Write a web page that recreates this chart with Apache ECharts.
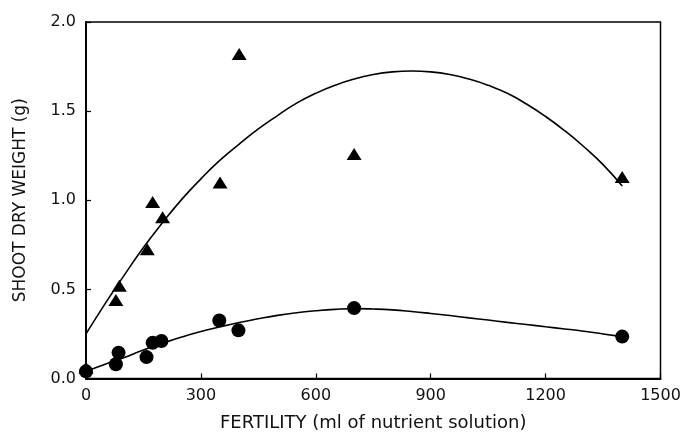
<!DOCTYPE html>
<html>
<head>
<meta charset="utf-8">
<script src="https://cdn.jsdelivr.net/npm/echarts@6/dist/echarts.min.js"></script>
<style>
html,body{margin:0;padding:0;background:#fff;}
#chart{width:686px;height:439px;}
</style>
</head>
<body>
<div id="chart"></div>
<script>
// Observed points: triangles (upper group) and circles (lower group)
var triangleX = [0, 78, 87, 160, 174, 200, 350, 400, 700, 1400];
var triangleY = [0.06, 0.44, 0.52, 0.725, 0.99, 0.905, 1.10, 1.82, 1.26, 1.13];
var circleX = [0, 78, 85, 158, 174, 197, 348, 398, 700, 1400];
var circleY = [0.04, 0.08, 0.145, 0.12, 0.20, 0.21, 0.325, 0.27, 0.395, 0.235];

// Fitted curves
var curveX = [0, 50, 100, 150, 200, 250, 300, 350, 400, 450, 500, 550, 600, 650, 700, 750, 800, 850, 900, 950, 1000, 1050, 1100, 1150, 1200, 1250, 1300, 1350, 1400];
var upperCurveY = [0.25, 0.42, 0.58, 0.735, 0.875, 1.005, 1.12, 1.225, 1.315, 1.40, 1.475, 1.545, 1.60, 1.645, 1.68, 1.705, 1.72, 1.725, 1.72, 1.705, 1.68, 1.645, 1.60, 1.54, 1.47, 1.39, 1.30, 1.20, 1.08];
var lowerCurveY = [0.04, 0.08, 0.118, 0.16, 0.198, 0.233, 0.264, 0.29, 0.314, 0.335, 0.354, 0.369, 0.38, 0.388, 0.392, 0.39, 0.385, 0.376, 0.365, 0.353, 0.34, 0.328, 0.315, 0.303, 0.29, 0.278, 0.265, 0.25, 0.235];

// Axis ticks
var xTicks = [0, 300, 600, 900, 1200, 1500];
var yTicks = [0.0, 0.5, 1.0, 1.5, 2.0];

function pairs(xs, ys) { return xs.map(function (x, i) { return [x, ys[i]]; }); }

var font = 'DejaVu Sans';
var chart = echarts.init(document.getElementById('chart'));
chart.setOption({
  animation: false,
  backgroundColor: '#fff',
  grid: { left: 86, right: 25.5, top: 22, bottom: 60.5, show: true, borderColor: '#000', borderWidth: 1.5, backgroundColor: 'transparent' },
  xAxis: {
    type: 'value', min: xTicks[0], max: xTicks[xTicks.length - 1], interval: 300,
    name: 'FERTILITY (ml of nutrient solution)', nameLocation: 'middle', nameGap: 36,
    nameTextStyle: { fontFamily: font, fontSize: 18, color: '#111' },
    axisLine: { show: true, lineStyle: { color: '#000', width: 2 } },
    axisTick: { show: true, inside: true, length: 5, lineStyle: { color: '#000', width: 1.2 } },
    axisLabel: { fontFamily: font, fontSize: 16, color: '#111', margin: 9, formatter: function (v) { return String(v); } },
    splitLine: { show: false }
  },
  yAxis: {
    type: 'value', min: yTicks[0], max: yTicks[yTicks.length - 1], interval: 0.5,
    name: 'SHOOT DRY WEIGHT (g)', nameLocation: 'middle', nameGap: 57, nameRotate: 90,
    nameTextStyle: { fontFamily: font, fontSize: 17, color: '#111' },
    axisLine: { show: true, lineStyle: { color: '#000', width: 2 } },
    axisTick: { show: true, inside: true, length: 5, lineStyle: { color: '#000', width: 1.2 } },
    axisLabel: { fontFamily: font, fontSize: 16, color: '#111', margin: 10, formatter: function (v) { return v.toFixed(1); } },
    splitLine: { show: false }
  },
  series: [
    { type: 'line', data: pairs(curveX, upperCurveY), smooth: true, showSymbol: false, lineStyle: { color: '#000', width: 1.6 }, z: 2 },
    { type: 'line', data: pairs(curveX, lowerCurveY), smooth: true, showSymbol: false, lineStyle: { color: '#000', width: 1.6 }, z: 2 },
    { type: 'scatter', data: pairs(triangleX, triangleY), symbol: 'triangle', symbolSize: [15, 12], itemStyle: { color: '#000', opacity: 1 }, z: 3 },
    { type: 'scatter', data: pairs(circleX, circleY), symbol: 'circle', symbolSize: 14, itemStyle: { color: '#000', opacity: 1 }, z: 3 }
  ]
});
</script>
</body>
</html>
